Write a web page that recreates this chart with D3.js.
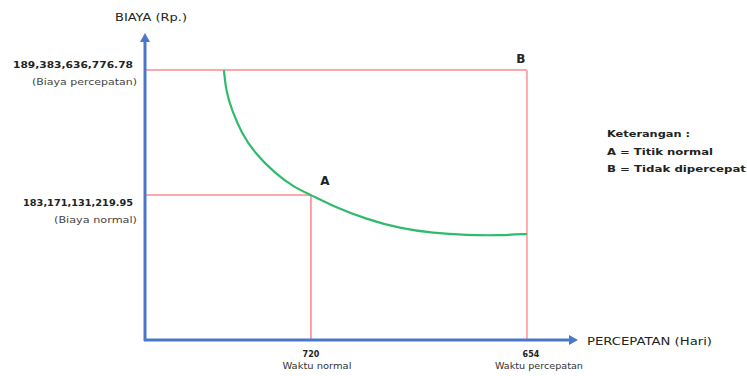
<!DOCTYPE html>
<html>
<head>
<meta charset="utf-8">
<script src="https://cdn.jsdelivr.net/npm/d3@7"></script>
<style>
html,body{margin:0;padding:0;background:#fff;}
svg{display:block;font-family:"DejaVu Sans",sans-serif;}
</style>
</head>
<body>
<svg id="chart" width="747" height="376"></svg>
<script>
// ---------- data ----------
const xTickValues = [720, 654];
const xTickLabels = ["720", "654"];
const xTickSubLabels = ["Waktu normal", "Waktu percepatan"];

const yTickValues = [189383636776.78, 183171131219.95];
const yTickLabels = ["189,383,636,776.78", "183,171,131,219.95"];
const yTickSubLabels = ["(Biaya percepatan)", "(Biaya normal)"];

// cost-time curve (days, Rp)
const curveDays = [746.6, 745.9, 744.2, 741.2, 737.1, 731.0, 724.9, 720.0, 713.3, 703.0, 692.8, 682.7, 672.4, 662.1, 654.0];
const curveCost = [189.38e9, 188.30e9, 187.40e9, 186.24e9, 185.24e9, 184.25e9, 183.52e9, 183.17e9, 182.62e9, 181.96e9, 181.51e9, 181.27e9, 181.17e9, 181.16e9, 181.23e9];

const pointNames = ["A", "B"];
const pointDays = [720, 654];
const pointCost = [183171131219.95, 189383636776.78];

const legendTitle = "Keterangan :";
const legendItems = ["A = Titik normal", "B = Tidak dipercepat"];

const yAxisTitle = "BIAYA (Rp.)";
const xAxisTitle = "PERCEPATAN (Hari)";

// ---------- layout ----------
const pLeft = 145, pRight = 578, pTop = 33, pBottom = 340;
const svg = d3.select("#chart");

const x = d3.scaleLinear().domain([770.7, 638.4]).range([pLeft, pRight]);
const y = d3.scaleLinear().domain([175.96e9, 191.22e9]).range([pBottom, pTop]);

const red = "#ff8a8a";
const blue = "#4a78c8";
const green = "#2fbb6c";
const txt = "#222";

// guide lines (red)
const g = svg.append("g");
xTickValues.forEach((d, i) => {
  const yv = yTickValues[1 - i];
  g.append("line").attr("x1", pLeft).attr("x2", x(d)).attr("y1", y(yv)).attr("y2", y(yv))
    .attr("stroke", red).attr("stroke-width", 1.6);
  g.append("line").attr("x1", x(d)).attr("x2", x(d)).attr("y1", y(yv)).attr("y2", pBottom)
    .attr("stroke", i === 1 ? "#ffabab" : red).attr("stroke-width", i === 1 ? 2 : 1.6);
});

// curve
const line = d3.line().x((d, i) => x(curveDays[i])).y((d, i) => y(curveCost[i])).curve(d3.curveBasis);
svg.append("path").datum(curveDays).attr("d", line)
  .attr("fill", "none").attr("stroke", green).attr("stroke-width", 2.2);

// axes with arrows
svg.append("line").attr("x1", pLeft).attr("x2", pLeft).attr("y1", pBottom + 1).attr("y2", pTop + 7)
  .attr("stroke", blue).attr("stroke-width", 3);
svg.append("path").attr("d", `M${pLeft},${pTop} L${pLeft - 5},${pTop + 9} L${pLeft + 5},${pTop + 9} Z`).attr("fill", blue);
svg.append("line").attr("x1", pLeft - 1).attr("x2", pRight - 7).attr("y1", pBottom).attr("y2", pBottom)
  .attr("stroke", blue).attr("stroke-width", 3);
svg.append("path").attr("d", `M${pRight},${pBottom} L${pRight - 9},${pBottom - 5} L${pRight - 9},${pBottom + 5} Z`).attr("fill", blue);

// y tick labels
const yNumDy = [-2, 11], ySubDy = [15, 28];
const yNumLen = [120, 110], ySubLen = [105, 83];
yTickValues.forEach((v, i) => {
  svg.append("text").attr("x", 133).attr("y", y(v) + yNumDy[i]).attr("text-anchor", "end")
    .attr("font-size", 9).attr("font-weight", "bold").attr("fill", txt)
    .attr("textLength", yNumLen[i]).attr("lengthAdjust", "spacingAndGlyphs").text(yTickLabels[i]);
  svg.append("text").attr("x", 137).attr("y", y(v) + ySubDy[i]).attr("text-anchor", "end")
    .attr("font-size", 8.5).attr("fill", "#444")
    .attr("textLength", ySubLen[i]).attr("lengthAdjust", "spacingAndGlyphs").text(yTickSubLabels[i]);
});

// x tick labels
const xNumDx = [0, 4], xSubDx = [6, 12];
const xSubLen = [69, 88];
xTickValues.forEach((v, i) => {
  svg.append("text").attr("x", x(v) + xNumDx[i]).attr("y", 357).attr("text-anchor", "middle")
    .attr("font-size", 8).attr("font-weight", "bold").attr("fill", txt).text(xTickLabels[i]);
  svg.append("text").attr("x", x(v) + xSubDx[i]).attr("y", 369).attr("text-anchor", "middle")
    .attr("font-size", 8).attr("fill", "#333")
    .attr("textLength", xSubLen[i]).attr("lengthAdjust", "spacingAndGlyphs").text(xTickSubLabels[i]);
});

// axis titles
svg.append("text").attr("x", 151).attr("y", 21).attr("text-anchor", "middle")
  .attr("font-size", 10).attr("fill", txt).attr("textLength", 72).attr("lengthAdjust", "spacingAndGlyphs").text(yAxisTitle);
svg.append("text").attr("x", 587).attr("y", 345)
  .attr("font-size", 10).attr("fill", txt).attr("textLength", 125).attr("lengthAdjust", "spacingAndGlyphs").text(xAxisTitle);

// point labels
const ptDx = [14, -6], ptDy = [-9.5, -7];
pointNames.forEach((n, i) => {
  svg.append("text").attr("x", x(pointDays[i]) + ptDx[i]).attr("y", y(pointCost[i]) + ptDy[i])
    .attr("text-anchor", "middle").attr("font-size", 12).attr("font-weight", "bold").attr("fill", txt).text(n);
});

// legend
svg.append("text").attr("x", 607).attr("y", 137).attr("font-size", 9).attr("font-weight", "bold").attr("fill", txt)
  .attr("textLength", 83).attr("lengthAdjust", "spacingAndGlyphs").text(legendTitle);
const legLen = [106, 139];
legendItems.forEach((t, i) => {
  svg.append("text").attr("x", 607).attr("y", 155 + i * 17).attr("font-size", 9.5).attr("font-weight", "bold").attr("fill", txt)
    .attr("textLength", legLen[i]).attr("lengthAdjust", "spacingAndGlyphs").text(t);
});
</script>
</body>
</html>
